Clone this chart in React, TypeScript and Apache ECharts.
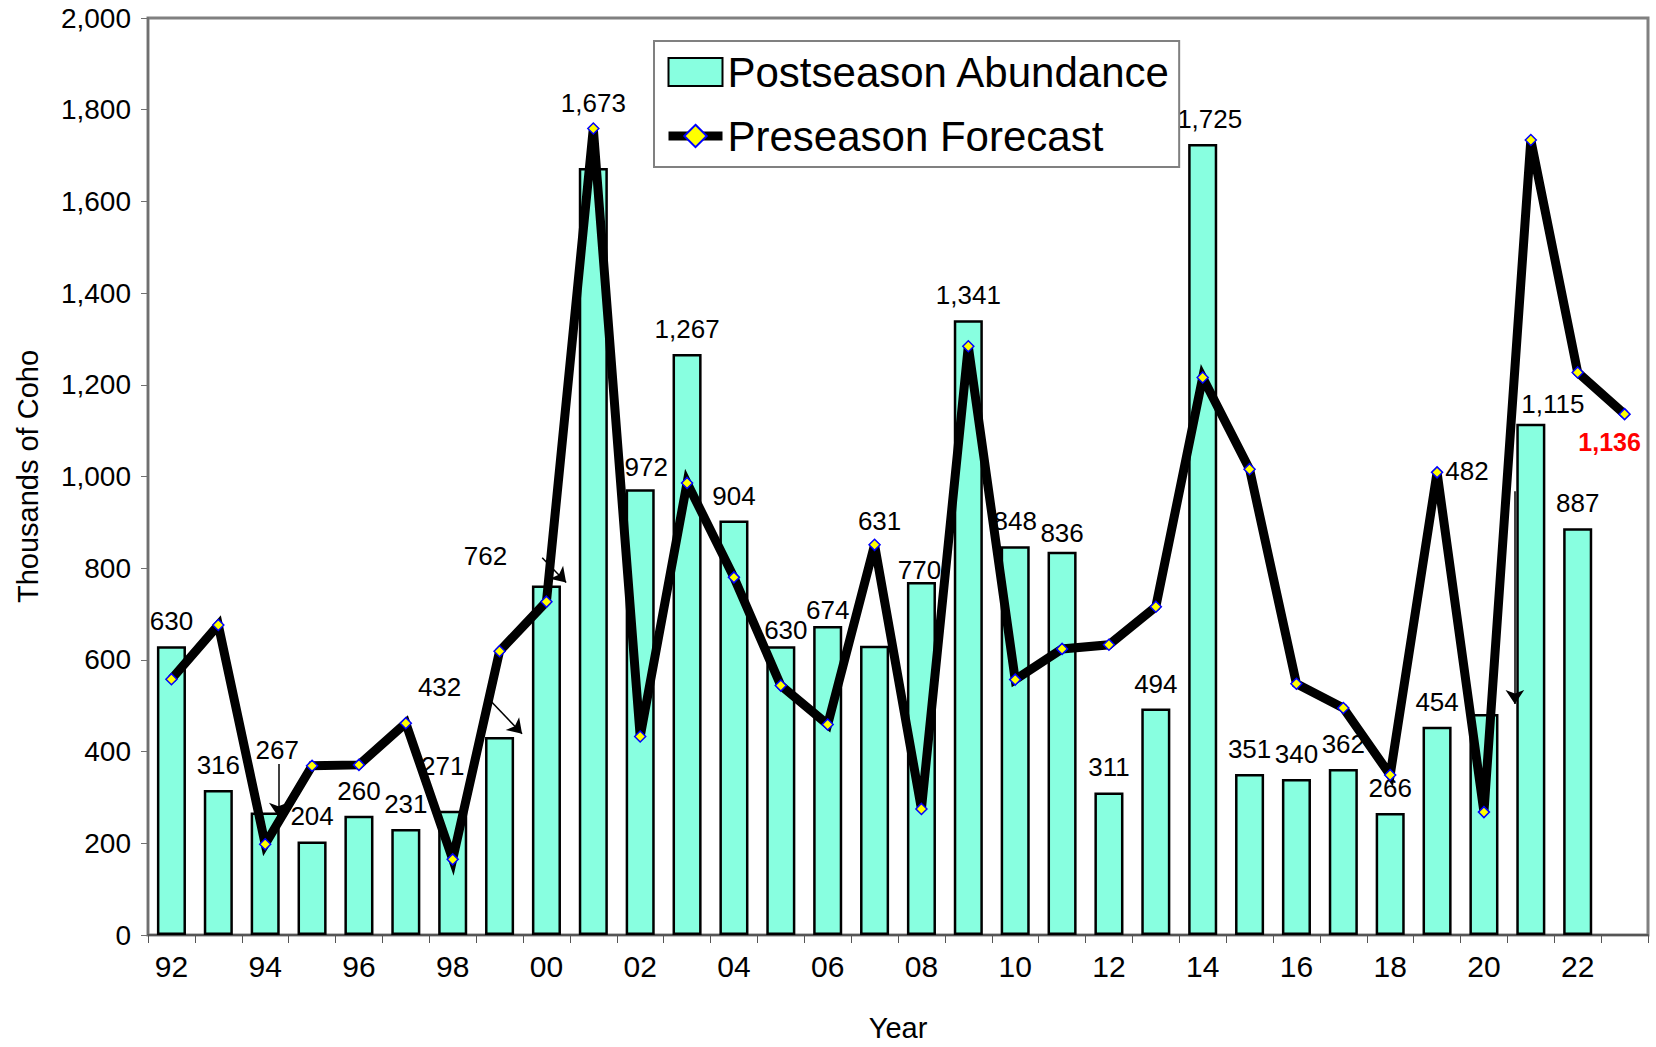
import React, { useEffect, useRef } from "react";
import * as echarts from "echarts";

const categories = ["92","93","94","95","96","97","98","99","00","01","02","03","04","05","06","07","08","09","10","11","12","13","14","15","16","17","18","19","20","21","22","23"];
const postseason = [630,316,267,204,260,231,271,432,762,1673,972,1267,904,630,674,631,770,1341,848,836,311,494,1725,351,340,362,266,454,482,1115,887,null];
const preseason = [558,676,198,369,371,462,165,619,727,1759,433,986,780,544,459,851,275,1284,557,624,633,716,1216,1016,548,495,349,1009,268,1734,1227,1136];
const yTicks = { min: 0, max: 2000, interval: 200 };

// label nudges (pixels) for crowded labels: [categoryIndex, dx, dy]
const labelNudges: [number, number, number][] = [
  [2, 12, -38], [6, -10, -20], [7, -60, -25], [8, -61, -5], [9, 0, -40],
  [10, 6, 3], [13, 5, 9], [14, 0, 9], [15, 5, -100], [16, -2, 13],
  [19, 0, 6], [22, 7, 0], [28, -17, -218], [29, 22, 5],
];
// annotation arrows: [categoryIndex, fromOffset, fromValue, toOffset, toValue]
const arrows: [number, number, number, number, number][] = [
  [2, 0.28, 373, 0.28, 258],
  [7, -0.27, 519, 0.48, 439],
  [8, -0.09, 823, 0.42, 769],
  [28, 0.66, 968, 0.66, 504],
];

export default function App() {
  const ref = useRef<HTMLDivElement>(null);
  useEffect(() => {
    if (!ref.current) return;
    const chart = echarts.init(ref.current, null, { renderer: "svg" });
    const font = "'Liberation Sans', Arial, sans-serif";
    const nudgeMap: Record<number, [number, number]> = {};
    labelNudges.forEach(([i, dx, dy]) => (nudgeMap[i] = [dx, dy]));
    const barData = postseason.map((v, i) =>
      v == null ? "-" : nudgeMap[i] ? { value: v, label: { offset: nudgeMap[i] } } : v
    );
    const lineData = preseason.map((v, i) =>
      i === preseason.length - 1
        ? {
            value: v,
            label: {
              show: true,
              position: "bottom",
              offset: [-15, 4],
              color: "#FF0000",
              fontWeight: "bold",
              fontSize: 25,
              fontFamily: font,
              formatter: (p: any) => Number(p.value).toLocaleString("en-US"),
            },
          }
        : v
    );
    chart.setOption({
      animation: false,
      backgroundColor: "#fff",
      textStyle: { fontFamily: font },
      grid: { left: 148, right: 8, top: 18, bottom: 108, show: true, borderColor: "#808080", borderWidth: 3 },
      legend: {
        orient: "vertical",
        left: 654,
        top: 41,
        padding: [10, 8, 10, 10],
        itemWidth: 54,
        itemHeight: 28,
        itemGap: 22,
        borderColor: "#808080",
        borderWidth: 2,
        textStyle: { fontSize: 42, color: "#000", fontFamily: font },
        data: [
          { name: "Postseason Abundance", icon: "rect" },
          { name: "Preseason Forecast", lineStyle: { width: 9, color: "#000" } },
        ],
      },
      xAxis: {
        type: "category",
        data: categories,
        name: "Year",
        nameLocation: "middle",
        nameGap: 78,
        nameTextStyle: { fontSize: 29, color: "#000" },
        axisLine: { lineStyle: { color: "#555", width: 2 } },
        axisTick: { show: true, interval: 0, length: 8, lineStyle: { color: "#555" } },
        axisLabel: {
          interval: 1,
          fontSize: 30,
          color: "#000",
          margin: 16,
          fontFamily: "'Liberation Sans Narrow', 'Arial Narrow', 'Liberation Sans', sans-serif",
        },
      },
      yAxis: {
        type: "value",
        min: yTicks.min,
        max: yTicks.max,
        interval: yTicks.interval,
        name: "Thousands of Coho",
        nameLocation: "middle",
        nameGap: 106,
        nameTextStyle: { fontSize: 29, color: "#000" },
        axisLine: { show: true, lineStyle: { color: "#707070", width: 2 } },
        axisTick: { show: true, length: 7, lineStyle: { color: "#707070" } },
        splitLine: { show: false },
        axisLabel: {
          fontSize: 28,
          color: "#000",
          margin: 17,
          formatter: (v: number) => v.toLocaleString("en-US"),
        },
      },
      series: [
        {
          name: "Postseason Abundance",
          type: "bar",
          data: barData,
          barWidth: "62%",
          itemStyle: { color: "#88FFE0", borderColor: "#000", borderWidth: 2.5 },
          label: {
            show: true,
            position: "top",
            distance: 12,
            fontSize: 26,
            color: "#000",
            formatter: (p: any) => Number(p.value).toLocaleString("en-US"),
          },
          z: 2,
        },
        {
          name: "Preseason Forecast",
          type: "line",
          data: lineData,
          symbol: "diamond",
          symbolSize: 11,
          lineStyle: { color: "#000", width: 9, join: "miter" },
          itemStyle: { color: "#FFFF00", borderColor: "#0000FF", borderWidth: 1.5 },
          z: 3,
        },
      ],
    });
    const toPx = (idx: number, off: number, val: number) => {
      const a = chart.convertToPixel({ seriesIndex: 0 }, [idx, val]) as number[];
      const b = chart.convertToPixel({ seriesIndex: 0 }, [idx + 1, val]) as number[];
      return { x: a[0] + off * (b[0] - a[0]), y: a[1] };
    };
    chart.setOption({
      series: [
        {
          name: "Postseason Abundance",
          markLine: {
            silent: true,
            symbol: ["none", "arrow"],
            symbolSize: 14,
            label: { show: false },
            lineStyle: { color: "#000", width: 1.5, type: "solid" },
            data: arrows.map(([i, fo, fv, to, tv]) => [toPx(i, fo, fv), toPx(i, to, tv)]),
          },
        },
      ],
    });
    return () => chart.dispose();
  }, []);
  return <div ref={ref} style={{ position: "fixed", left: 0, top: 0, width: "1656px", height: "1047px" }} />;
}
